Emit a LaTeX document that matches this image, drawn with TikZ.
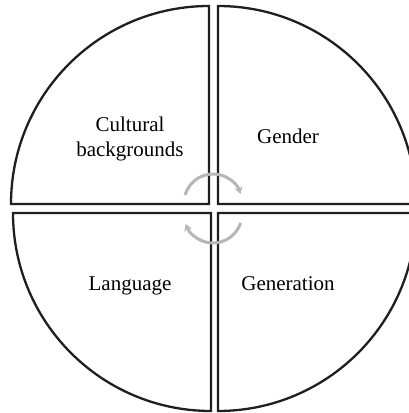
\documentclass[tikz,border=0pt]{standalone}
\usepackage{fontspec}
\setmainfont{Liberation Serif}
\usepackage{tikz}
\usetikzlibrary{arrows.meta}
\definecolor{turngray}{RGB}{182,182,182}
\def\R{198}
\def\turnR{29}

\begin{document}
\begin{tikzpicture}[
    x=1pt, y=1pt,
    >={Stealth[length=7pt,width=8pt]},
    quarter/.style={draw=black!88, line width=2.3pt, line join=miter},
    turnarrow/.style={draw=turngray, line width=3pt, ->},
    sectortext/.style={font=\fontsize{21}{25}\selectfont, align=center, inner sep=0pt}
]
\clip (0,0) rectangle (409,413);

% the four quarters
\draw[quarter] (209,209) -- (209,209+\R) arc[start angle=90,end angle=180,radius=\R pt] -- cycle;
\draw[quarter] (218,209) -- (218+\R,209) arc[start angle=0,end angle=90,radius=\R pt] -- cycle;
\draw[quarter] (211,200) -- (211-\R,200) arc[start angle=180,end angle=270,radius=\R pt] -- cycle;
\draw[quarter] (218,200) -- (218,200-\R) arc[start angle=270,end angle=360,radius=\R pt] -- cycle;

\node[sectortext] (cult) at (130,274) {Cultural\\backgrounds};
\node[sectortext, anchor=base] (gend) at (288,269) {Gender};
\node[sectortext, anchor=base] (lang) at (130,122) {Language};
\node[sectortext, anchor=base] (gener) at (288,122) {Generation};

% turning arrows
\coordinate (hubtop) at (213,210);
\coordinate (hubbot) at (213,199);
\draw[turnarrow] ([shift={(164:\turnR)}]hubtop) arc[start angle=164,end angle=18,radius=\turnR pt];
\draw[turnarrow] ([shift={(-18:\turnR)}]hubbot) arc[start angle=-18,end angle=-160,radius=\turnR pt];
\end{tikzpicture}
\end{document}
